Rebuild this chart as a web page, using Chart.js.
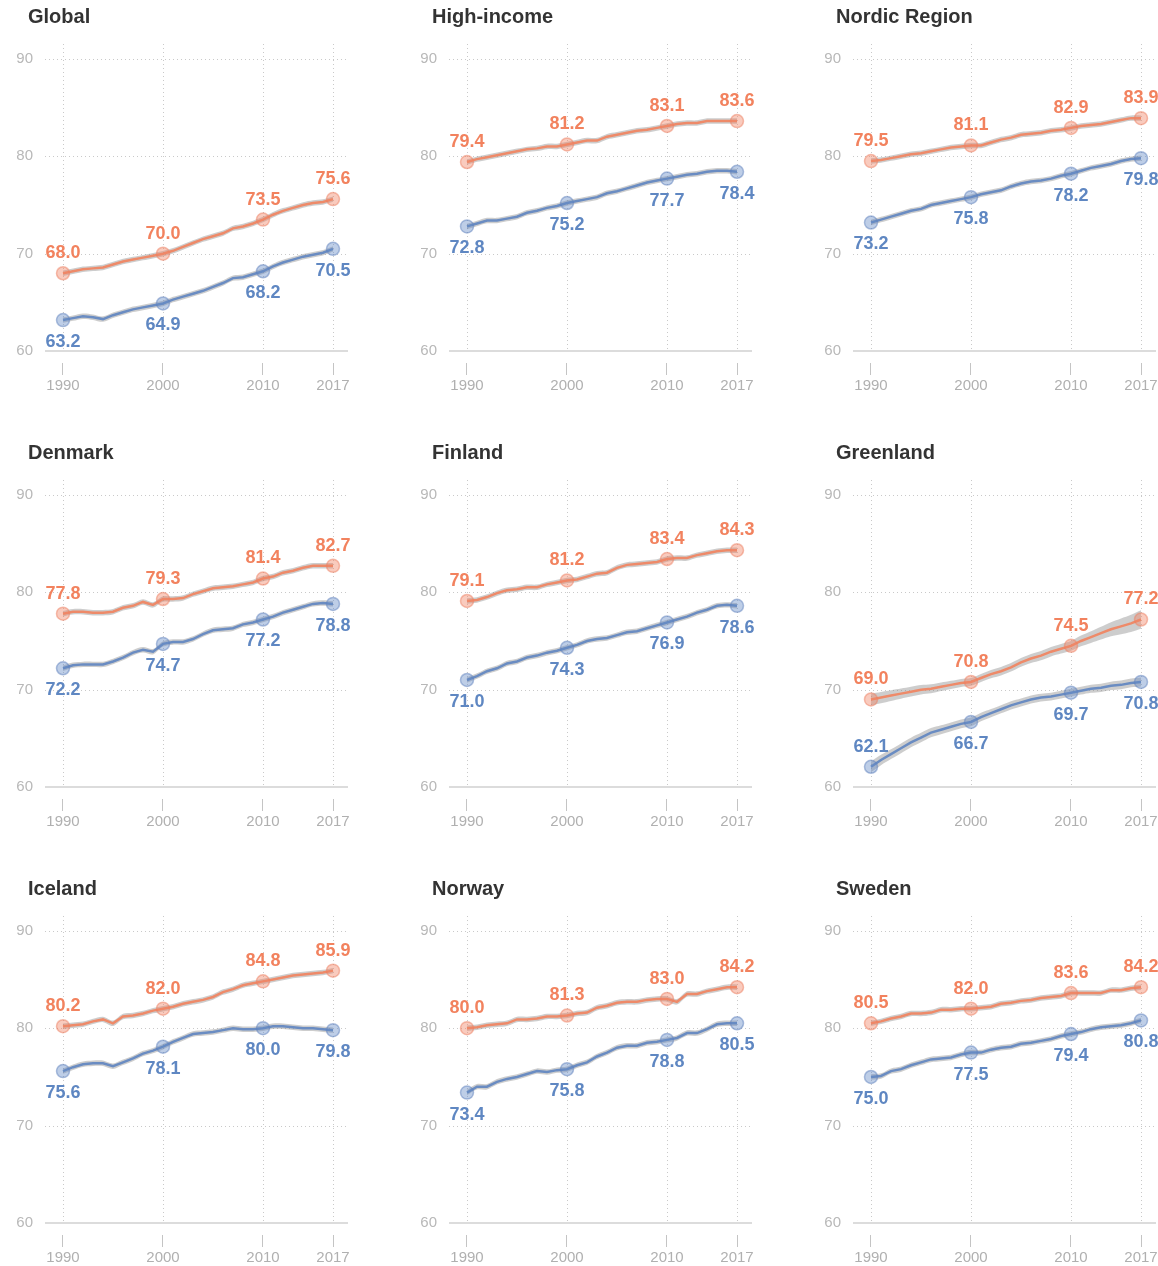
<!DOCTYPE html>
<html>
<head>
<meta charset="utf-8">
<script src="https://cdn.jsdelivr.net/npm/chart.js@4.4.1/dist/chart.umd.min.js"></script>
<style>
  body { margin: 0; background: #fff; font-family: "Liberation Sans", Arial, sans-serif; overflow: hidden; }
  #grid { position: relative; width: 1158px; height: 1266px; overflow: hidden; }
  .panel { position: absolute; width: 370px; height: 436px; }
  .panel h3 { position: absolute; left: 28px; top: 5px; margin: 0; font-size: 20px; font-weight: bold; color: #333; }
  .panel canvas { position: absolute; left: 0; top: 0; }
</style>
</head>
<body>
<div id="grid"></div>
<script>
// life expectancy at birth, female vs male, 1990-2017

const years = [1990, 1991, 1992, 1993, 1994, 1995, 1996, 1997, 1998, 1999,
    2000, 2001, 2002, 2003, 2004, 2005, 2006, 2007, 2008, 2009,
    2010, 2011, 2012, 2013, 2014, 2015, 2016, 2017];
const labelYears = [1990, 2000, 2010, 2017];
const yTicks = [60, 70, 80, 90];

const globalFemale = [68.0, 68.2, 68.4, 68.5, 68.6, 68.9, 69.2, 69.4, 69.6, 69.8, 70.0, 70.3, 70.7, 71.1, 71.5, 71.8, 72.1, 72.6, 72.8, 73.1, 73.5, 74.0, 74.4, 74.7, 75.0, 75.2, 75.3, 75.6];
const globalMale = [63.2, 63.4, 63.6, 63.5, 63.3, 63.7, 64.0, 64.3, 64.5, 64.7, 64.9, 65.3, 65.6, 65.9, 66.2, 66.6, 67.0, 67.5, 67.6, 67.9, 68.2, 68.7, 69.1, 69.4, 69.7, 69.9, 70.1, 70.5];

const highIncomeFemale = [79.4, 79.7, 79.9, 80.1, 80.3, 80.5, 80.7, 80.8, 81.0, 81.0, 81.2, 81.4, 81.6, 81.6, 82.0, 82.2, 82.4, 82.6, 82.7, 82.9, 83.1, 83.3, 83.4, 83.4, 83.6, 83.6, 83.6, 83.6];
const highIncomeMale = [72.8, 73.1, 73.4, 73.4, 73.6, 73.8, 74.2, 74.4, 74.7, 74.9, 75.2, 75.4, 75.6, 75.8, 76.2, 76.4, 76.7, 77.0, 77.3, 77.5, 77.7, 77.9, 78.1, 78.2, 78.4, 78.5, 78.5, 78.4];

const nordicFemale = [79.5, 79.6, 79.8, 80.0, 80.2, 80.3, 80.5, 80.7, 80.9, 81.0, 81.1, 81.1, 81.4, 81.7, 81.9, 82.2, 82.3, 82.4, 82.6, 82.7, 82.9, 83.1, 83.2, 83.3, 83.5, 83.7, 83.9, 83.9];
const nordicMale = [73.2, 73.5, 73.8, 74.1, 74.4, 74.6, 75.0, 75.2, 75.4, 75.6, 75.8, 76.1, 76.3, 76.5, 76.9, 77.2, 77.4, 77.5, 77.7, 78.0, 78.2, 78.5, 78.8, 79.0, 79.2, 79.5, 79.7, 79.8];

const denmarkFemale = [77.8, 78.0, 78.0, 77.9, 77.9, 78.0, 78.4, 78.6, 79.0, 78.7, 79.3, 79.3, 79.4, 79.8, 80.1, 80.4, 80.5, 80.6, 80.8, 81.0, 81.4, 81.6, 82.0, 82.2, 82.5, 82.7, 82.7, 82.7];
const denmarkMale = [72.2, 72.5, 72.6, 72.6, 72.6, 72.9, 73.3, 73.8, 74.1, 73.9, 74.7, 74.9, 74.9, 75.2, 75.7, 76.1, 76.2, 76.3, 76.7, 76.9, 77.2, 77.5, 77.9, 78.2, 78.5, 78.8, 78.9, 78.8];

const finlandFemale = [79.1, 79.2, 79.5, 79.9, 80.2, 80.3, 80.5, 80.5, 80.8, 81.0, 81.2, 81.3, 81.6, 81.9, 82.0, 82.5, 82.8, 82.9, 83.0, 83.1, 83.4, 83.5, 83.5, 83.8, 84.0, 84.2, 84.3, 84.3];
const finlandMale = [71.0, 71.4, 71.9, 72.2, 72.7, 72.9, 73.3, 73.5, 73.8, 74.0, 74.3, 74.6, 75.0, 75.2, 75.3, 75.6, 75.9, 76.0, 76.3, 76.6, 76.9, 77.2, 77.5, 77.9, 78.2, 78.6, 78.7, 78.6];

const greenlandFemale = [69.0, 69.2, 69.4, 69.6, 69.8, 70.0, 70.1, 70.3, 70.5, 70.7, 70.8, 71.2, 71.6, 71.9, 72.3, 72.8, 73.2, 73.5, 73.9, 74.2, 74.5, 75.0, 75.4, 75.8, 76.2, 76.5, 76.8, 77.2];
const greenlandMale = [62.1, 62.8, 63.4, 64.0, 64.6, 65.1, 65.6, 65.9, 66.2, 66.5, 66.7, 67.2, 67.6, 68.0, 68.4, 68.7, 69.0, 69.2, 69.3, 69.5, 69.7, 69.9, 70.1, 70.2, 70.4, 70.5, 70.7, 70.8];
// uncertainty half-widths (years) for Greenland, wider than elsewhere
const greenlandFemaleBand = [0.6, 0.58, 0.55, 0.52, 0.5, 0.48, 0.46, 0.44, 0.42, 0.41, 0.4, 0.41, 0.42, 0.43, 0.44, 0.45, 0.46, 0.47, 0.48, 0.49, 0.5, 0.55, 0.6, 0.66, 0.72, 0.8, 0.88, 0.95];
const greenlandMaleBand = [0.55, 0.53, 0.51, 0.5, 0.49, 0.48, 0.47, 0.46, 0.45, 0.45, 0.45, 0.44, 0.43, 0.42, 0.42, 0.41, 0.41, 0.4, 0.4, 0.4, 0.4, 0.4, 0.41, 0.42, 0.43, 0.44, 0.45, 0.46];

const icelandFemale = [80.2, 80.3, 80.4, 80.7, 80.9, 80.5, 81.2, 81.3, 81.5, 81.8, 82.0, 82.2, 82.5, 82.7, 82.9, 83.2, 83.7, 84.0, 84.4, 84.6, 84.8, 85.0, 85.2, 85.4, 85.5, 85.6, 85.7, 85.9];
const icelandMale = [75.6, 76.0, 76.3, 76.4, 76.4, 76.1, 76.5, 76.9, 77.4, 77.7, 78.1, 78.6, 79.0, 79.4, 79.5, 79.6, 79.8, 80.0, 79.9, 79.9, 80.0, 80.2, 80.2, 80.1, 80.0, 80.0, 79.9, 79.8];

const norwayFemale = [80.0, 80.1, 80.3, 80.4, 80.5, 80.9, 80.9, 81.0, 81.2, 81.2, 81.3, 81.5, 81.6, 82.1, 82.3, 82.6, 82.7, 82.7, 82.9, 83.0, 83.0, 82.7, 83.5, 83.5, 83.8, 84.0, 84.2, 84.2];
const norwayMale = [73.4, 74.0, 74.0, 74.5, 74.8, 75.0, 75.3, 75.6, 75.5, 75.7, 75.8, 76.2, 76.5, 77.1, 77.5, 78.0, 78.2, 78.2, 78.5, 78.6, 78.8, 79.0, 79.5, 79.5, 79.9, 80.4, 80.5, 80.5];

const swedenFemale = [80.5, 80.7, 81.0, 81.2, 81.5, 81.5, 81.6, 81.9, 81.9, 82.0, 82.0, 82.1, 82.2, 82.5, 82.6, 82.8, 82.9, 83.1, 83.2, 83.3, 83.6, 83.6, 83.6, 83.6, 83.9, 83.9, 84.1, 84.2];
const swedenMale = [75.0, 75.1, 75.6, 75.8, 76.2, 76.5, 76.8, 76.9, 77.0, 77.3, 77.5, 77.5, 77.8, 78.0, 78.1, 78.4, 78.5, 78.7, 78.9, 79.2, 79.4, 79.6, 79.9, 80.1, 80.2, 80.3, 80.5, 80.8];

const defaultBand = 0.28;

const panels = [
    { title: 'Global', female: globalFemale, male: globalMale },
    { title: 'High-income', female: highIncomeFemale, male: highIncomeMale },
    { title: 'Nordic Region', female: nordicFemale, male: nordicMale },
    { title: 'Denmark', female: denmarkFemale, male: denmarkMale },
    { title: 'Finland', female: finlandFemale, male: finlandMale },
    { title: 'Greenland', female: greenlandFemale, male: greenlandMale,
      femaleBand: greenlandFemaleBand, maleBand: greenlandMaleBand, maleAbove: [1990] },
    { title: 'Iceland', female: icelandFemale, male: icelandMale },
    { title: 'Norway', female: norwayFemale, male: norwayMale },
    { title: 'Sweden', female: swedenFemale, male: swedenMale }
];

const ORANGE_LINE = '#ee8a69';
const BLUE_LINE = '#6a8cc2';
const ORANGE_TEXT = '#f2825e';
const BLUE_TEXT = '#5f87c2';
const BAND = 'rgba(135,135,135,0.42)';

Chart.defaults.font.family = "'Liberation Sans', Arial, sans-serif";

/** Dotted grid + solid baseline at 60 */
const gridLines = {
    id: 'gridLines',
    beforeDatasetsDraw(chart) {
        const { ctx, chartArea: a, scales: { x, y } } = chart;
        const base = Math.round(y.getPixelForValue(60));
        ctx.save();
        ctx.strokeStyle = '#c9c9c9';
        ctx.lineWidth = 1;
        ctx.setLineDash([1, 3]);
        labelYears.forEach(v => {
            const px = Math.round(x.getPixelForValue(v)) + 0.5;
            ctx.beginPath();
            ctx.moveTo(px, a.top);
            ctx.lineTo(px, base);
            ctx.stroke();
        });
        yTicks.slice(1).forEach(v => {
            const py = Math.round(y.getPixelForValue(v)) + 0.5;
            ctx.beginPath();
            ctx.moveTo(a.left, py);
            ctx.lineTo(a.right, py);
            ctx.stroke();
        });
        ctx.setLineDash([]);
        ctx.strokeStyle = '#dcdcdc';
        ctx.lineWidth = 2;
        ctx.beginPath();
        ctx.moveTo(a.left, base);
        ctx.lineTo(a.right, base);
        ctx.stroke();
        ctx.restore();
    }
};

/** Value labels at the marked years */
const valueLabels = {
    id: 'valueLabels',
    afterDatasetsDraw(chart) {
        const { ctx } = chart;
        const above = chart.options.plugins.valueLabels.maleAbove || [];
        ctx.save();
        ctx.font = "bold 18px 'Liberation Sans', Arial, sans-serif";
        ctx.textAlign = 'center';
        ctx.textBaseline = 'middle';
        [4, 5].forEach(di => {
            const ds = chart.data.datasets[di];
            const meta = chart.getDatasetMeta(di);
            ds.data.forEach((pt, i) => {
                if (!labelYears.includes(pt.x)) return;
                const el = meta.data[i];
                let dy = di === 4 ? -20 : 22;
                if (di === 5 && above.includes(pt.x)) dy = -20;
                ctx.fillStyle = di === 4 ? ORANGE_TEXT : BLUE_TEXT;
                ctx.fillText(pt.y.toFixed(1), el.x, el.y + dy);
            });
        });
        ctx.restore();
    }
};

function toPoints(values, offsets, sign) {
    return values.map((v, i) => ({ x: years[i], y: v + sign * offsets[i] }));
}

function buildChart(canvas, p) {
    const fBand = p.femaleBand || years.map(() => defaultBand);
    const mBand = p.maleBand || years.map(() => defaultBand);
    const zero = years.map(() => 0);
    const markRadius = ctx => (ctx.raw && labelYears.includes(ctx.raw.x) ? 6.5 : 0);
    // order 1 keeps the bands underneath the coloured lines
    const bandStyle = { borderWidth: 0, pointRadius: 0, tension: 0.3, order: 1 };

    return new Chart(canvas, {
        type: 'line',
        data: {
            datasets: [
                { ...bandStyle, data: toPoints(p.female, fBand, 1), fill: false },
                { ...bandStyle, data: toPoints(p.female, fBand, -1), fill: '-1', backgroundColor: BAND },
                { ...bandStyle, data: toPoints(p.male, mBand, 1), fill: false },
                { ...bandStyle, data: toPoints(p.male, mBand, -1), fill: '-1', backgroundColor: BAND },
                {
                    data: toPoints(p.female, zero, 1), borderColor: ORANGE_LINE, borderWidth: 2.5, order: 0,
                    pointRadius: markRadius, pointBackgroundColor: 'rgba(241,132,100,0.42)',
                    pointBorderColor: 'rgba(238,128,98,0.5)', pointBorderWidth: 1.5, fill: false
                },
                {
                    data: toPoints(p.male, zero, 1), borderColor: BLUE_LINE, borderWidth: 2.5, order: 0,
                    pointRadius: markRadius, pointBackgroundColor: 'rgba(100,138,198,0.42)',
                    pointBorderColor: 'rgba(95,130,190,0.5)', pointBorderWidth: 1.5, fill: false
                }
            ]
        },
        options: {
            responsive: false,
            animation: false,
            events: [],
            layout: { padding: { top: 44, right: 22, bottom: 33, left: 0 } },
            plugins: {
                legend: { display: false },
                tooltip: { enabled: false },
                valueLabels: { maleAbove: p.maleAbove }
            },
            scales: {
                x: {
                    type: 'linear', min: 1988.2, max: 2018.5,
                    afterBuildTicks: s => { s.ticks = labelYears.map(v => ({ value: v })); },
                    afterFit: s => { s.height = 40; },
                    grid: { drawOnChartArea: false, drawTicks: true, tickLength: 12, tickColor: '#c4c4c4', lineWidth: 1 },
                    border: { display: false },
                    ticks: { color: '#b0b0b0', font: { size: 15 }, padding: 2, maxRotation: 0, autoSkip: false, callback: v => String(v) }
                },
                y: {
                    min: 58.8, max: 91.5,
                    afterBuildTicks: s => { s.ticks = yTicks.map(v => ({ value: v })); },
                    afterFit: s => { s.width = 45; },
                    grid: { display: false, drawTicks: false },
                    border: { display: false },
                    ticks: { color: '#b8b8b8', font: { size: 15 }, padding: 12 }
                }
            }
        },
        plugins: [gridLines, valueLabels]
    });
}

const grid = document.getElementById('grid');
panels.forEach((p, i) => {
    const div = document.createElement('div');
    div.className = 'panel';
    div.style.left = (i % 3) * 404 + 'px';
    div.style.top = Math.floor(i / 3) * 436 + 'px';
    const canvas = document.createElement('canvas');
    canvas.width = 370;
    canvas.height = 436;
    const h = document.createElement('h3');
    h.textContent = p.title;
    div.append(canvas, h);
    grid.appendChild(div);
    buildChart(canvas, p);
});
</script>
</body>
</html>
